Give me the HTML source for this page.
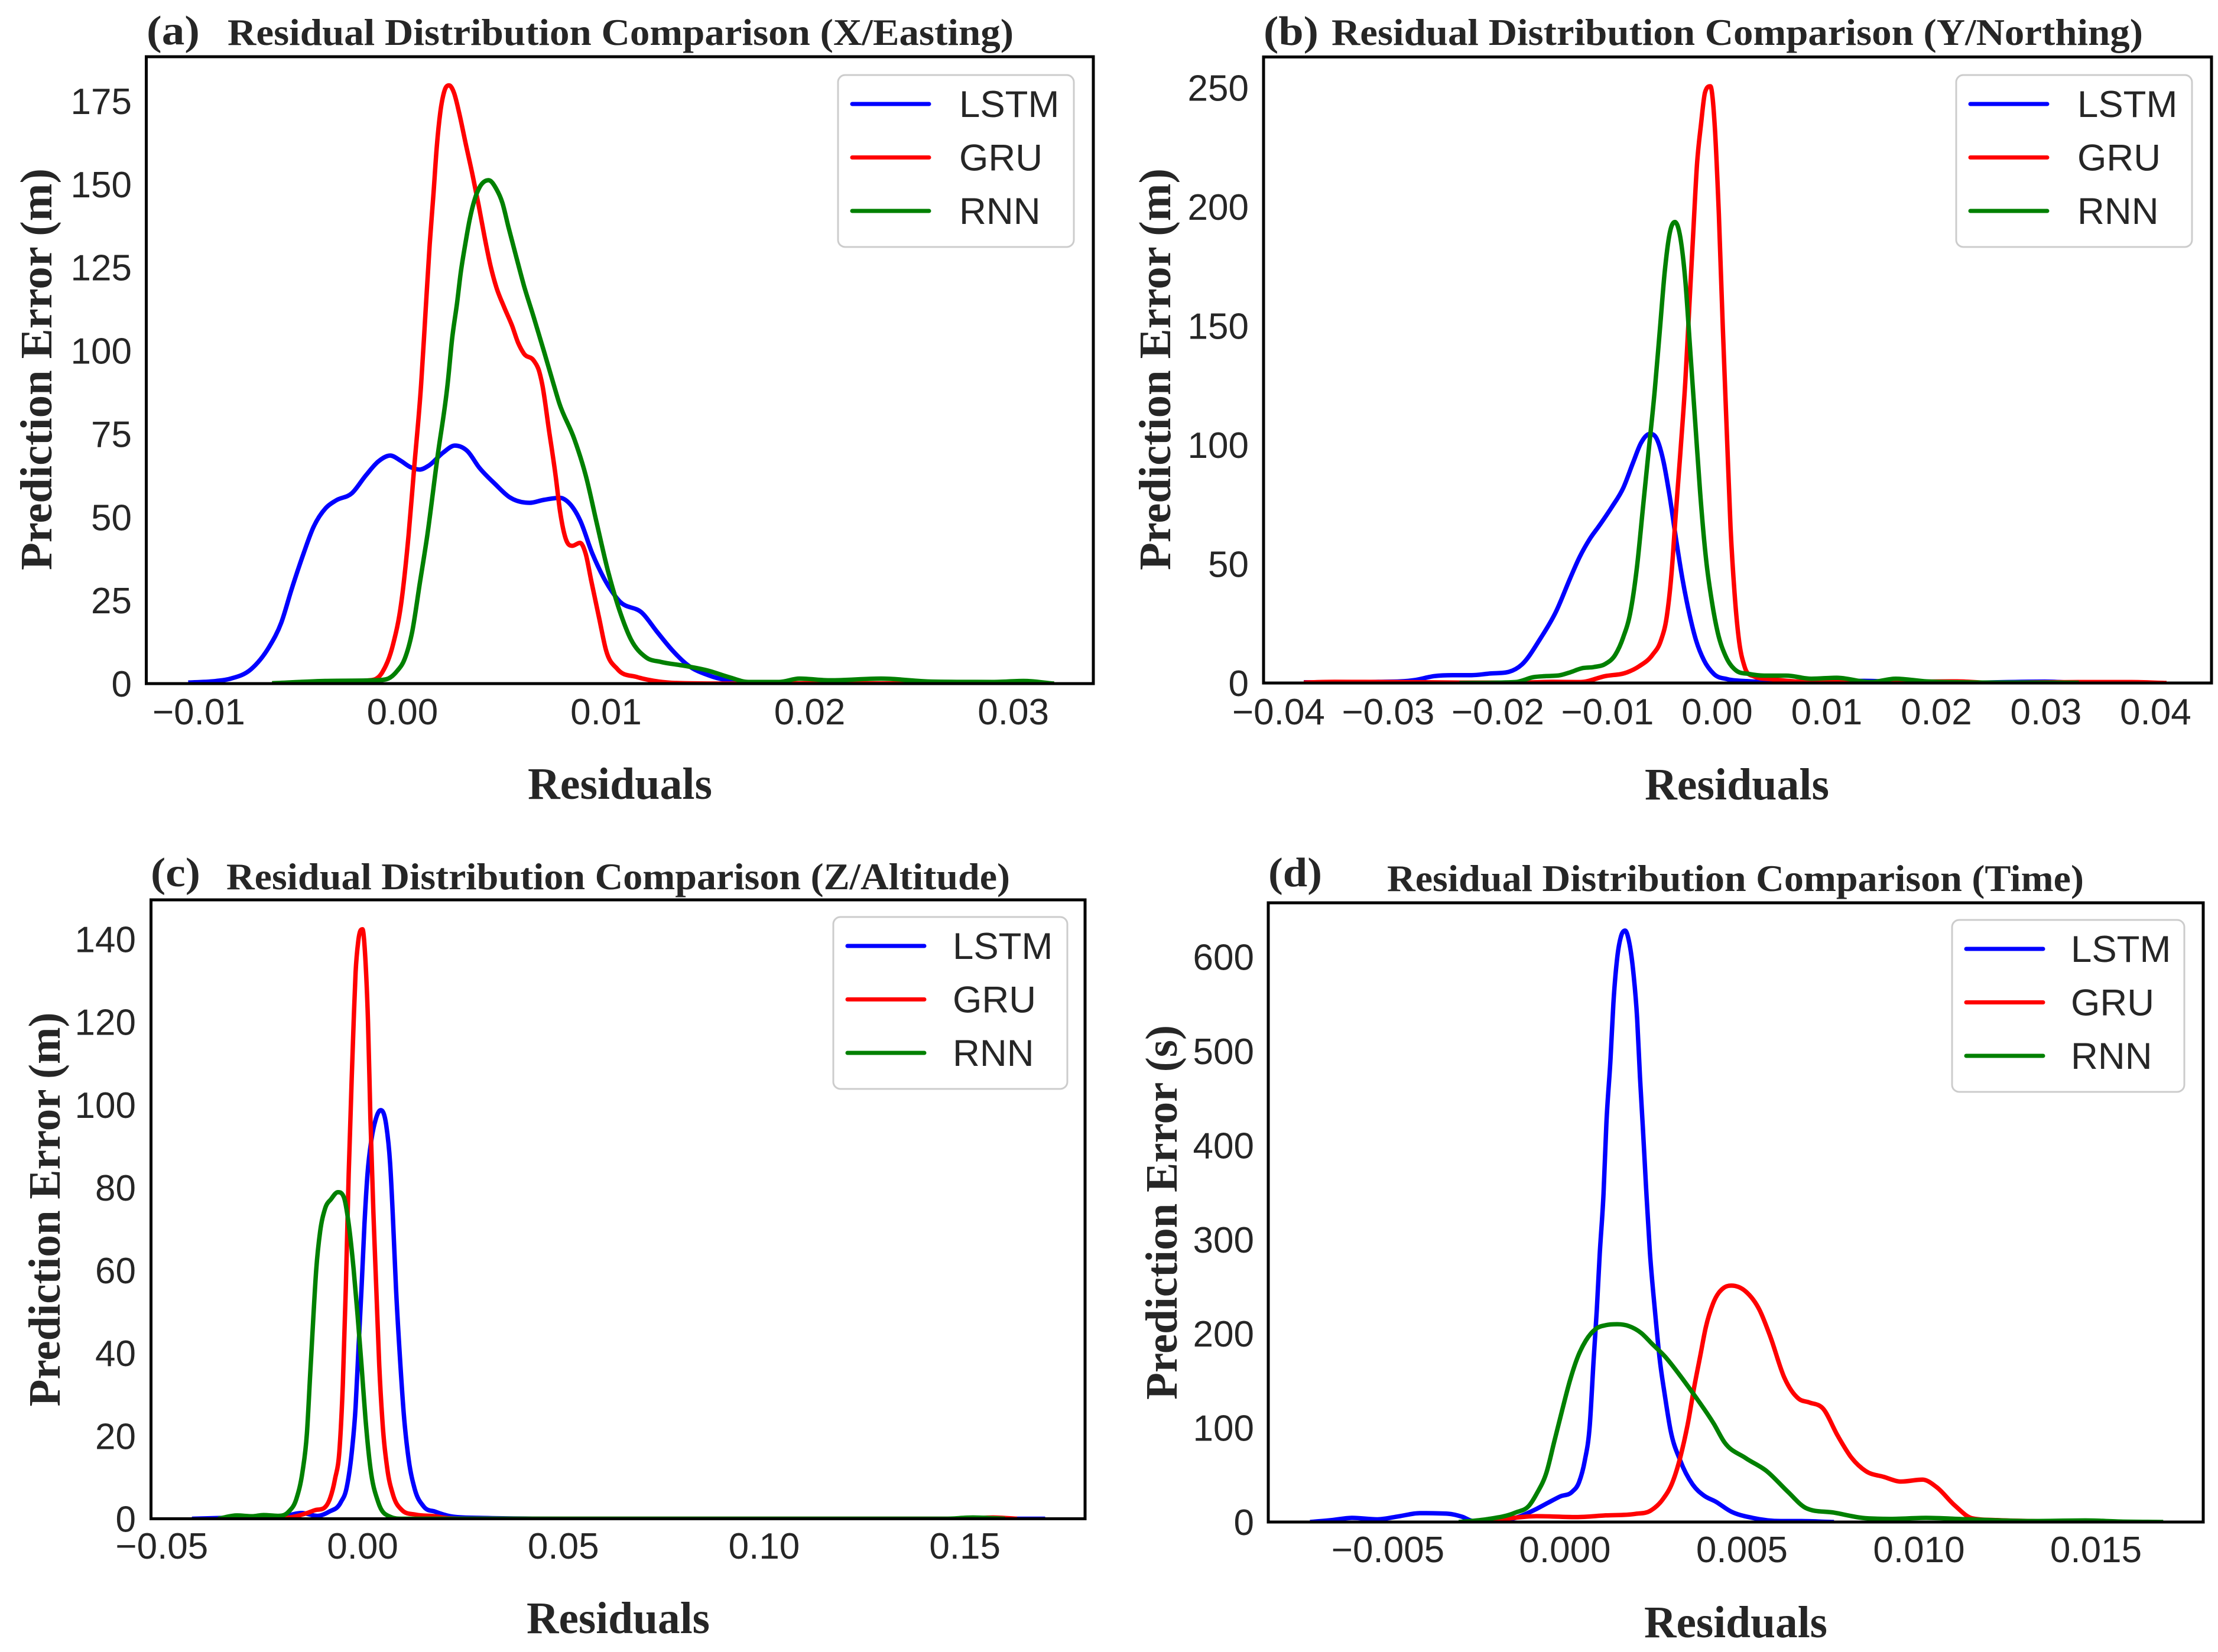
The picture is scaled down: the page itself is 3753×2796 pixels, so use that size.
<!DOCTYPE html>
<html lang="en">
<head>
<meta charset="utf-8">
<title>Residual Distribution Comparison</title>
<style>
html,body{margin:0;padding:0;background:#fff;}
svg{display:block;}
.tick{font-family:"Liberation Sans",sans-serif;font-size:62px;fill:#262626;}
.leg{font-family:"Liberation Sans",sans-serif;font-size:63.5px;fill:#262626;}
.ttl{font-family:"Liberation Serif",serif;font-weight:bold;font-size:64px;fill:#262626;}
.tag{font-family:"Liberation Serif",serif;font-weight:bold;font-size:70px;fill:#262626;}
.lab{font-family:"Liberation Serif",serif;font-weight:bold;font-size:76px;fill:#262626;}
.box{fill:none;stroke:#000;stroke-width:5;}
.lgbox{fill:#fff;fill-opacity:.9;stroke:#ccc;stroke-width:3;}
.h{stroke-width:7;stroke-linecap:round;fill:none;}
</style>
</head>
<body>
<svg id="chart" xmlns="http://www.w3.org/2000/svg" width="3753" height="2796" viewBox="0 0 3753 2796">
<rect width="3753" height="2796" fill="#fff"/>

<g id="pa">
<text class="tag" x="248" y="75" textLength="90" lengthAdjust="spacingAndGlyphs">(a)</text>
<text class="ttl" x="385" y="76" textLength="1330" lengthAdjust="spacingAndGlyphs">Residual Distribution Comparison (X/Easting)</text>
<text class="lab" x="1049" y="1352" text-anchor="middle" textLength="312" lengthAdjust="spacingAndGlyphs">Residuals</text>
<text class="lab" transform="translate(87,625) rotate(-90)" text-anchor="middle" textLength="680" lengthAdjust="spacingAndGlyphs">Prediction Error (m)</text>
</g>

<g id="pb">
<text class="tag" x="2138" y="76" textLength="93" lengthAdjust="spacingAndGlyphs">(b)</text>
<text class="ttl" x="2253" y="76" textLength="1373" lengthAdjust="spacingAndGlyphs">Residual Distribution Comparison (Y/Northing)</text>
<text class="lab" x="2939" y="1353" text-anchor="middle" textLength="312" lengthAdjust="spacingAndGlyphs">Residuals</text>
<text class="lab" transform="translate(1980,625) rotate(-90)" text-anchor="middle" textLength="680" lengthAdjust="spacingAndGlyphs">Prediction Error (m)</text>
</g>

<g id="pc">
<text class="tag" x="255" y="1500" textLength="84" lengthAdjust="spacingAndGlyphs">(c)</text>
<text class="ttl" x="383" y="1505" textLength="1326" lengthAdjust="spacingAndGlyphs">Residual Distribution Comparison (Z/Altitude)</text>
<text class="lab" x="1046" y="2764" text-anchor="middle" textLength="310" lengthAdjust="spacingAndGlyphs">Residuals</text>
<text class="lab" transform="translate(101,2047) rotate(-90)" text-anchor="middle" textLength="667" lengthAdjust="spacingAndGlyphs">Prediction Error (m)</text>
</g>

<g id="pd">
<text class="tag" x="2146" y="1500" textLength="91" lengthAdjust="spacingAndGlyphs">(d)</text>
<text class="ttl" x="2347" y="1508" textLength="1179" lengthAdjust="spacingAndGlyphs">Residual Distribution Comparison (Time)</text>
<text class="lab" x="2937" y="2771" text-anchor="middle" textLength="310" lengthAdjust="spacingAndGlyphs">Residuals</text>
<text class="lab" transform="translate(1991,2052) rotate(-90)" text-anchor="middle" textLength="634" lengthAdjust="spacingAndGlyphs">Prediction Error (s)</text>
</g>
</svg>

<script>
// Panel (a) X/Easting
const aXTicks=[-0.01,0,0.01,0.02,0.03];
const aXLabels=["−0.01","0.00","0.01","0.02","0.03"];
const aYTicks=[0,25,50,75,100,125,150,175];
const aYLabels=["0","25","50","75","100","125","150","175"];
const aLstmX=[-0.01052,-0.00913,-0.00843,-0.00744,-0.00655,-0.00595,-0.00546,-0.00486,-0.00437,-0.00377,-0.00327,-0.00248,-0.00179,-0.00119,-0.0006,-0.0001,0.0004,0.00085,0.0013,0.002,0.00258,0.00318,0.00377,0.00456,0.00526,0.00625,0.00695,0.00774,0.00814,0.00873,0.00933,0.00992,0.01062,0.01181,0.0125,0.0133,0.014,0.01508,0.0165,0.018];
const aLstmY=[0.3,0.8,1.5,4.3,11,18.3,28,39,47,52.7,55,57.2,62.6,66.7,68.5,67,65,64.3,65.5,69.4,71.5,69.9,64.9,59.9,56,54.3,55.2,55.8,54.5,49,39,31.4,25,21,15.6,9.7,5.6,2.4,0.5,0.05];
const aGruX=[-0.0064,-0.0016,-0.001,-0.00045,-0.00007,0.0003,0.00057,0.00092,0.00113,0.00134,0.00152,0.00169,0.00186,0.00205,0.00229,0.00253,0.00278,0.00311,0.00345,0.00374,0.00403,0.00433,0.00462,0.005,0.00539,0.00568,0.00597,0.00645,0.0067,0.00687,0.0072,0.00752,0.00774,0.00807,0.00835,0.00872,0.009,0.00927,0.00965,0.01,0.01057,0.0115,0.0126,0.0139,0.0165,0.02,0.032];
const aGruY=[0,1,3.3,12,23.7,44.5,64.4,90,111.2,132,146.7,161.5,171.6,177.8,179.7,177.5,171.6,162.1,152.6,143.8,134.3,125.4,118.9,113,107.4,102.4,99.1,97,94.1,89.8,76,62.6,51.8,42.7,41.4,42.3,39,31,20,10,4.3,2,0.6,0.1,0,0.1,0];
const aRnnX=[-0.0064,-0.0038,-0.0014,-0.0008,-0.00026,0.00011,0.00048,0.00085,0.00122,0.00172,0.00222,0.00244,0.00268,0.00287,0.00307,0.00331,0.00355,0.00379,0.00423,0.00462,0.00491,0.0052,0.00558,0.00597,0.00645,0.00694,0.00742,0.0077,0.00844,0.009,0.00955,0.0101,0.01066,0.01122,0.01196,0.0127,0.0138,0.01507,0.016,0.017,0.0185,0.0195,0.021,0.0235,0.026,0.029,0.0305,0.032];
const aRnnY=[0.1,0.8,1,1.3,3.8,7.4,15.6,30,44.5,68,90,103.6,114.2,123.7,131.4,139.6,145.5,149.1,151.2,148.5,144.4,137.3,128.4,119.5,110,100,90,84.3,73.5,62.6,48,33.7,22,13.3,7.9,6.5,5.4,3.8,2,0.5,0.5,1.5,1,1.5,0.6,0.5,0.8,0];

// Panel (b) Y/Northing
const bXTicks=[-0.04,-0.03,-0.02,-0.01,0,0.01,0.02,0.03,0.04];
const bXLabels=["−0.04","−0.03","−0.02","−0.01","0.00","0.01","0.02","0.03","0.04"];
const bYTicks=[0,50,100,150,200,250];
const bYLabels=["0","50","100","150","200","250"];
const bLstmX=[-0.0377,-0.0309,-0.0275,-0.0258,-0.0241,-0.0224,-0.0207,-0.019,-0.0178,-0.0161,-0.0147,-0.0134,-0.01253,-0.01161,-0.01071,-0.00963,-0.00856,-0.00766,-0.00694,-0.00613,-0.0055,-0.00487,-0.00433,-0.0038,-0.00317,-0.00254,-0.00191,-0.00119,-0.00029,0.00097,0.0027,0.0049,0.0134,0.0168,0.0219,0.0299,0.033,0.0407];
const bLstmY=[0.3,0.5,1.3,2.9,3.3,3.3,4,4.7,7.8,18.8,29.9,44,53,60.5,66.3,73.7,81.9,92.6,100.8,104.6,102.5,92.6,78.6,62.2,44,29.3,17.8,9.5,3.8,1.6,0.8,0.4,0.9,0.4,0.1,0.6,0.1,0];
const bGruX=[-0.0377,-0.0349,-0.0292,-0.0235,-0.0178,-0.015,-0.0125,-0.0102,-0.0082,-0.00712,-0.00586,-0.00514,-0.0046,-0.00416,-0.0038,-0.00335,-0.0029,-0.00254,-0.00218,-0.00182,-0.00146,-0.0011,-0.00061,-0.0002,0.00016,0.00052,0.00088,0.00123,0.0016,0.00196,0.0025,0.0033,0.0052,0.0106,0.0219,0.0248,0.033,0.0378,0.041];
const bGruY=[0.2,0.5,0.4,0.2,0.2,0.5,0.4,2.9,4.5,7,12,17.7,27.6,45.7,68.9,96.7,126.3,157.5,188.7,218.4,234.8,248,250.6,233,197,149.3,106.5,65.3,37.4,19.3,7,2.9,1.5,0.3,0.7,0.1,0.4,0.4,0];
const bRnnX=[-0.0235,-0.0184,-0.0167,-0.0156,-0.0143,-0.0134,-0.01233,-0.01125,-0.01017,-0.00928,-0.00856,-0.00793,-0.0073,-0.00676,-0.00622,-0.00568,-0.00523,-0.00478,-0.00433,-0.00385,-0.00335,-0.0029,-0.00245,-0.002,-0.00155,-0.00101,-0.00047,0.00007,0.00079,0.00169,0.00294,0.0043,0.0063,0.0086,0.0109,0.014,0.0163,0.0191,0.0248,0.033];
const bRnnY=[0,0.4,2.5,2.9,3.3,4.5,6.2,6.7,8.1,11.9,19.2,29.2,49,73.7,98.4,123.1,147.7,172.4,188.7,193.6,187,169.2,139.6,110,80.2,52.2,34.1,21,11.2,5.4,3.8,3.1,3.1,1.8,2.2,0.4,1.8,0.7,0.2,0.1];

// Panel (c) Z/Altitude
const cXTicks=[-0.05,0,0.05,0.1,0.15];
const cXLabels=["−0.05","0.00","0.05","0.10","0.15"];
const cYTicks=[0,20,40,60,80,100,120,140];
const cYLabels=["0","20","40","60","80","100","120","140"];
const cLstmX=[-0.0425,-0.032,-0.0208,-0.01523,-0.0113,-0.00836,-0.00542,-0.00395,-0.00272,-0.00174,-0.001,-0.00027,0.00047,0.00121,0.00218,0.00316,0.00449,0.00586,0.00684,0.00758,0.00832,0.0093,0.01027,0.01151,0.01298,0.01519,0.01813,0.02255,0.03,0.0568,0.12,0.17];
const cLstmY=[0,0.3,0.4,1.4,0.7,1.7,4,7.6,15.9,27,41.8,55.6,71.2,83.2,91.5,96.1,98.7,95.2,86,72.2,55.6,39,25.2,14.1,7.2,3,1.7,0.5,0.2,0,0,0];
const cGruX=[-0.02,-0.0162,-0.01376,-0.0118,-0.0096,-0.00812,-0.00689,-0.00567,-0.00493,-0.00419,-0.00346,-0.00272,-0.00223,-0.00174,-0.0011,-0.00003,0.00071,0.00135,0.00194,0.00268,0.00341,0.00415,0.00489,0.00611,0.00758,0.00979,0.01322,0.01813,0.0216,0.027,0.12,0.15,0.157,0.163];
const cGruY=[0,0.7,1.4,2.1,2.6,4.9,9.5,17.8,32.5,55.6,83.2,106.3,120,132,139.4,142.4,134.8,120,97,74,55.6,37.1,24.2,12.3,5.8,2.1,1,0.6,0.1,0,0,0,0.3,0];
const cRnnX=[-0.036,-0.0313,-0.0275,-0.0247,-0.0211,-0.01843,-0.01646,-0.01498,-0.01387,-0.01303,-0.01229,-0.01155,-0.01057,-0.00935,-0.00787,-0.00615,-0.00468,-0.00346,-0.00223,-0.00125,-0.00027,0.00071,0.00194,0.0039,0.00684,0.01,0.12,0.145,0.152,0.16];
const cRnnY=[0,0.8,0.6,0.9,0.7,1.7,4.9,11.3,20.6,35.3,48.2,60.2,69.4,74.9,77.2,78.9,77.7,71.2,60.2,49.1,37.1,24.2,12.3,4,0.5,0,0,0,0.3,0];

// Panel (d) Time
const dXTicks=[-0.005,0,0.005,0.01,0.015];
const dXLabels=["−0.005","0.000","0.005","0.010","0.015"];
const dYTicks=[0,100,200,300,400,500,600];
const dYLabels=["0","100","200","300","400","500","600"];
const dLstmX=[-0.0072,-0.0066,-0.006,-0.0053,-0.0047,-0.0041,-0.0033,-0.0029,-0.0026,-0.0021,-0.0014,-0.0008,-0.00047,-0.00013,0.0002,0.0004,0.00056,0.0007,0.00081,0.0009,0.00098,0.00109,0.00117,0.00129,0.00137,0.00148,0.00159,0.0017,0.00181,0.00192,0.00204,0.00212,0.0022,0.00229,0.0024,0.00254,0.00268,0.00282,0.00298,0.00326,0.0036,0.00393,0.00425,0.0047,0.0053,0.0061,0.0066,0.0076];
const dLstmY=[0,2,4.4,2.8,6,9.4,8.8,5.5,1,0.5,4.4,14,20.6,27.2,32,42.4,65,102,172,225.5,283,349,423,493,551,600,622.6,628,616.5,588,534,472,419,357,287,225.5,172,135,98,65,40.3,28,21.8,11,4.4,1,1,0];
const dGruX=[-0.0026,-0.0018,-0.0008,0.00031,0.00115,0.00198,0.00243,0.00276,0.00304,0.00326,0.00348,0.00365,0.00382,0.00398,0.00418,0.0045,0.0047,0.0051,0.0055,0.0058,0.0062,0.0066,0.0069,0.0073,0.0077,0.0081,0.0085,0.009,0.0095,0.0101,0.0105,0.011,0.0115,0.0122,0.0132,0.0142];
const dGruY=[0,3,6.2,5.3,7,8.6,12.3,23.9,42.4,69,106,143,176,207,231.7,249,251,245,225,197,153,131,127,120,92,68,54,48,43,45,37,18,4,2,1,0];
const dRnnX=[-0.003,-0.0022,-0.0014,-0.001,-0.0008,-0.00052,-0.0003,-0.00008,0.00015,0.00037,0.00059,0.00087,0.00115,0.00148,0.00181,0.00215,0.00248,0.00282,0.00321,0.00365,0.00421,0.0045,0.0051,0.0057,0.0063,0.0068,0.0076,0.0084,0.0092,0.0102,0.0114,0.0132,0.0147,0.0157,0.0169];
const dRnnY=[0,3,10,18,30,52.7,85.6,118.5,151.4,176,192.6,205,209,210,208,200.8,188.5,176,157.6,135,104,85,68,54,32,15,10,4.4,3.3,4.4,2.8,1,1.6,0.5,0];

const NS="http://www.w3.org/2000/svg";
function mk(tag,parent){const e=document.createElementNS(NS,tag);parent.appendChild(e);return e;}

// smooth shape-preserving cubic path through pixel points
function curvePath(px,py){
  const n=px.length,d=[],m=[];
  for(let i=0;i<n-1;i++)d.push((py[i+1]-py[i])/(px[i+1]-px[i]));
  m[0]=d[0];m[n-1]=d[n-2];
  for(let i=1;i<n-1;i++){
    if(d[i-1]*d[i]<=0){m[i]=0;continue;}
    const h0=px[i]-px[i-1],h1=px[i+1]-px[i];
    const c=(d[i-1]*h1+d[i]*h0)/(h0+h1);
    const lim=3*Math.min(Math.abs(d[i-1]),Math.abs(d[i]));
    m[i]=Math.sign(c)*Math.min(Math.abs(c),lim);
  }
  let s="M"+px[0].toFixed(1)+" "+py[0].toFixed(1);
  for(let i=0;i<n-1;i++){
    const h=(px[i+1]-px[i])/3;
    s+="C"+(px[i]+h).toFixed(1)+" "+(py[i]+m[i]*h).toFixed(1)+" "+(px[i+1]-h).toFixed(1)+" "+(py[i+1]-m[i+1]*h).toFixed(1)+" "+px[i+1].toFixed(1)+" "+py[i+1].toFixed(1);
  }
  return s;
}

function drawPanel(id,p){
  const g=document.getElementById(id);
  const L=p.left,R=p.right,T=p.top,B=p.bottom;
  const sx=v=>L+(v-p.xlim[0])/(p.xlim[1]-p.xlim[0])*(R-L);
  const sy=v=>B-(v-p.ylim[0])/(p.ylim[1]-p.ylim[0])*(B-T);

  const clip=mk("clipPath",g);
  clip.setAttribute("id",id+"-clip");
  const cr=mk("rect",clip);
  cr.setAttribute("x",L);cr.setAttribute("y",T);cr.setAttribute("width",R-L);cr.setAttribute("height",B-T);

  p.series.forEach(s=>{
    const path=mk("path",g);
    
    
    path.setAttribute("d",curvePath(s.x.map(sx),s.y.map(sy)));
    path.setAttribute("fill","none");
    path.setAttribute("stroke",s.color);
    path.setAttribute("stroke-width","7.5");
    path.setAttribute("stroke-linejoin","round");
    path.setAttribute("clip-path","url(#"+id+"-clip)");
  });

  const frame=mk("rect",g);
  
  
  frame.setAttribute("class","box");
  frame.setAttribute("x",L);frame.setAttribute("y",T);frame.setAttribute("width",R-L);frame.setAttribute("height",B-T);

  p.xTicks.forEach((v,i)=>{
    const t=mk("text",g);
    
    
    t.setAttribute("class","tick");
    t.setAttribute("x",sx(v));
    t.setAttribute("y",p.xTickBase);
    t.setAttribute("text-anchor","middle");
    t.textContent=p.xLabels[i];
  });
  p.yTicks.forEach((v,i)=>{
    const t=mk("text",g);
    
    
    t.setAttribute("class","tick");
    t.setAttribute("x",p.yTickRight);
    t.setAttribute("y",sy(v)+22);
    t.setAttribute("text-anchor","end");
    t.textContent=p.yLabels[i];
  });

  const lg=mk("g",g);
  
  
  const box=mk("rect",lg);
  
  
  box.setAttribute("class","lgbox");
  box.setAttribute("x",p.legX);box.setAttribute("y",p.legY);
  box.setAttribute("width",p.legW);box.setAttribute("height",291);
  box.setAttribute("rx",12);box.setAttribute("ry",12);
  p.series.forEach((s,i)=>{
    const yy=p.legY+49+i*90.5;
    const ln=mk("line",lg);
    
    
    ln.setAttribute("class","h");
    ln.setAttribute("stroke",s.color);
    ln.setAttribute("x1",p.legX+24);ln.setAttribute("x2",p.legX+154);
    ln.setAttribute("y1",yy);ln.setAttribute("y2",yy);
    const t=mk("text",lg);
    
    
    t.setAttribute("class","leg");
    t.setAttribute("x",p.legX+p.legText);
    t.setAttribute("y",yy+22);
    t.textContent=s.label;
  });
}

const BLUE="#0000ff",RED="#ff0000",GREEN="#008000";
drawPanel("pa",{left:247.5,right:1850,top:96,bottom:1157,xlim:[-0.01258,0.03393],ylim:[0,188.3],
  xTicks:aXTicks,xLabels:aXLabels,yTicks:aYTicks,yLabels:aYLabels,xTickBase:1226,yTickRight:223,legX:1418,legY:127,legW:399,legText:205,
  series:[{name:"lstm",label:"LSTM",color:BLUE,x:aLstmX,y:aLstmY},{name:"gru",label:"GRU",color:RED,x:aGruX,y:aGruY},{name:"rnn",label:"RNN",color:GREEN,x:aRnnX,y:aRnnY}]});
drawPanel("pb",{left:2138,right:3742,top:96.4,bottom:1156,xlim:[-0.04137,0.0451],ylim:[0,262.9],
  xTicks:bXTicks,xLabels:bXLabels,yTicks:bYTicks,yLabels:bYLabels,xTickBase:1226,yTickRight:2113,legX:3310,legY:127,legW:399,legText:205,
  series:[{name:"lstm",label:"LSTM",color:BLUE,x:bLstmX,y:bLstmY},{name:"gru",label:"GRU",color:RED,x:bGruX,y:bGruY},{name:"rnn",label:"RNN",color:GREEN,x:bRnnX,y:bRnnY}]});
drawPanel("pc",{left:255.5,right:1836,top:1523,bottom:2570.5,xlim:[-0.0527,0.17993],ylim:[0,149.5],
  xTicks:cXTicks,xLabels:cXLabels,yTicks:cYTicks,yLabels:cYLabels,xTickBase:2638,yTickRight:230,legX:1410,legY:1552,legW:396,legText:202,
  series:[{name:"lstm",label:"LSTM",color:BLUE,x:cLstmX,y:cLstmY},{name:"gru",label:"GRU",color:RED,x:cGruX,y:cGruY},{name:"rnn",label:"RNN",color:GREEN,x:cRnnX,y:cRnnY}]});
drawPanel("pd",{left:2146,right:3728,top:1528,bottom:2576,xlim:[-0.00838,0.01803],ylim:[0,657.5],
  xTicks:dXTicks,xLabels:dXLabels,yTicks:dYTicks,yLabels:dYLabels,xTickBase:2644,yTickRight:2122,legX:3303,legY:1557,legW:393,legText:201,
  series:[{name:"lstm",label:"LSTM",color:BLUE,x:dLstmX,y:dLstmY},{name:"gru",label:"GRU",color:RED,x:dGruX,y:dGruY},{name:"rnn",label:"RNN",color:GREEN,x:dRnnX,y:dRnnY}]});
</script>
</body>
</html>
